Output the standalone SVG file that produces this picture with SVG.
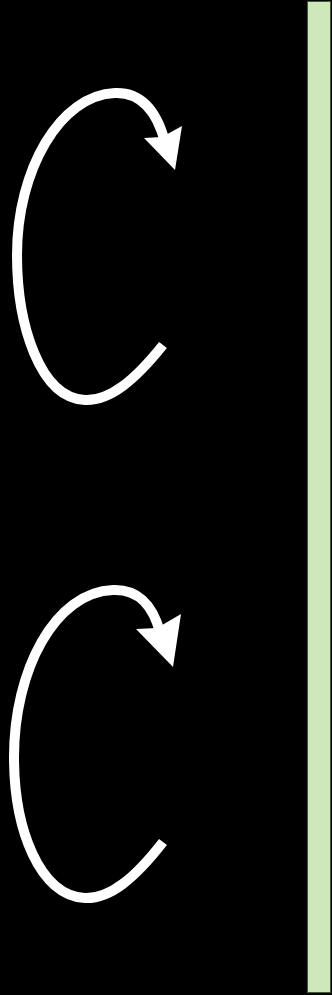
<svg xmlns="http://www.w3.org/2000/svg" width="332" height="995" viewBox="0 0 332 995">
<style>
.arc{fill:none;stroke:#ffffff;stroke-width:10;stroke-linejoin:round}
.head{fill:#ffffff;stroke:none}
</style>
<rect x="0" y="0" width="332" height="995" fill="#000000"/>
<g id="panel">
<rect x="307.5" y="1.5" width="23" height="991" fill="#cfe8bb" stroke="#3d5a30" stroke-width="1"/>
</g>
<g id="connectors">
<path class="arc" d="M163,345 C135,380 110,401 85,400 C40,398 17,325 17,255 C17,170 60,95 115,93 C142,92 157,112 165,142"/>
<polygon class="head" points="144,138 162,137 182,126 175,170"/>
<path class="arc" d="M163,842 C135,878 110,899 85,898 C40,896 14,830 14,757 C14,670 55,592 113,590 C140,589 153,607 160,632"/>
<polygon class="head" points="136,629 157,628 181,614 173,667"/>
</g>
</svg>
